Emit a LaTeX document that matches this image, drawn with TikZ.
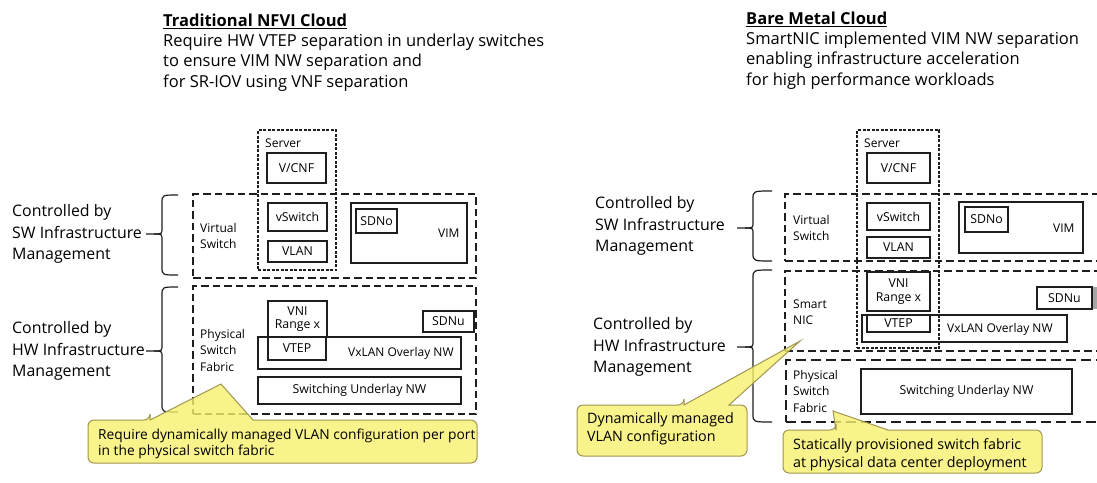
\documentclass[tikz,border=0pt]{standalone}
\usepackage{fontspec}
\setmainfont{Open Sans}
\definecolor{cfill}{RGB}{248,241,112}
\definecolor{cdraw}{RGB}{160,150,80}
\definecolor{ink}{RGB}{30,30,30}
\tikzset{
  solidbox/.style={draw=ink, line width=1.4pt, inner sep=0pt, align=center, font=\fontsize{12.3}{13.8}\selectfont},
  dashbox/.style={draw=ink, line width=1.2pt, dash pattern=on 7.5pt off 4pt, inner sep=0pt},
  dotbox/.style={draw=ink, line width=1.1pt, dash pattern=on 3pt off 1.5pt, inner sep=0pt},
  longdash/.style={draw=ink, line width=1.5pt, dash pattern=on 10pt off 5pt, inner sep=0pt},
  lbl/.style={anchor=west, inner sep=0pt, align=left, font=\fontsize{12}{16.5}\selectfont},
  big/.style={anchor=west, inner sep=0pt, align=left, font=\fontsize{15.9}{21.8}\selectfont},
  ttl/.style={anchor=west, inner sep=0pt, align=left, font=\fontsize{16.5}{20.4}\selectfont},
  callout/.style={fill=cfill, fill opacity=0.8, draw=cdraw, line width=1pt},
  ctext/.style={anchor=west, inner sep=0pt, align=left, font=\fontsize{13.8}{16.5}\selectfont},
  ctextb/.style={anchor=west, inner sep=0pt, align=left, font=\fontsize{14.3}{18.2}\selectfont},
  bracepath/.style={draw=ink, line width=1.2pt},
}
\newcommand\bx[7]{\node[#1, minimum width={(#5-#3)*1pt}, minimum height={(#6-#4)*1pt}] (#2) at ({(#3+#5)/2},{(#4+#6)/2}) {#7};}
\newcommand\curly[6]{%
  \draw[bracepath] (#1,#2) .. controls (#4,#2) .. (#4,#2+8) -- (#4,#6-6) .. controls (#4,#6) .. (#4-8,#6) -- (#5,#6);
  \draw[bracepath] (#4-8,#6) .. controls (#4,#6) .. (#4,#6+6) -- (#4,#3-8) .. controls (#4,#3) .. (#1,#3);}
\newcommand\callbox[8]{%
  \path[callout] (#5,#2) -- (#7,#8) -- (#6,#2) [rounded corners=6pt] -- (#3,#2) -- (#3,#4) -- (#1,#4) -- (#1,#2) -- (#5,#2) [sharp corners] -- cycle;}
\begin{document}
\begin{tikzpicture}[x=1pt, y=-1pt]
\useasboundingbox (0,0) rectangle (1097,482);
\fill[white] (0,0) rectangle (1097,482);

% ================= LEFT: Traditional NFVI Cloud =================
\node[ttl] (ltitle) at (163,52.5) {\textbf{\underline{Traditional NFVI Cloud}}\\Require HW VTEP separation in underlay switches\\to ensure VIM NW separation and\\for SR-IOV using VNF separation};

\bx{dashbox}{lvsw}{193}{194}{476}{278}{}
\bx{dashbox}{lpsf}{193}{286}{476}{414}{}
\bx{dotbox}{lserver}{258}{130}{336}{270}{}

\node[lbl] (lserverl) at (265,143) {Server};
\bx{solidbox}{lvcnf}{267}{153}{326}{183}{V/CNF}
\bx{solidbox}{lvswitch}{268}{203}{327}{231}{vSwitch}
\bx{solidbox}{lvlan}{268}{241}{327}{262}{VLAN}
\bx{solidbox}{lvim}{351}{203}{467}{263}{}
\node[lbl] (lvimt) at (438,233) {VIM};
\bx{solidbox}{lsdno}{356}{209}{397}{233}{SDNo}
\node[lbl] (lvswl) at (200,236) {Virtual\\Switch};

\node[lbl] (lpsfl) at (200,350) {Physical\\Switch\\Fabric};
\bx{solidbox}{lvxlan}{258}{337}{461}{369}{}
\node[lbl] (lvxlant) at (348,353) {VxLAN Overlay NW};
\bx{solidbox}{lvni}{268}{301}{327}{337}{VNI\\Range x}
\bx{solidbox}{lvtep}{268}{337}{326}{360}{VTEP}
\bx{solidbox}{lsdnu}{423}{311}{474}{332}{SDNu}
\bx{solidbox}{lunder}{258}{377}{461}{404}{Switching Underlay NW}

\node[big] (lsw) at (12,234) {Controlled by\\SW Infrastructure\\Management};
\node[big] (lhw) at (12,351) {Controlled by\\HW Infrastructure\\Management};
\curly{178}{195}{275}{162}{146}{234}
\curly{178}{287}{412}{162}{146}{351}

\callbox{88}{420}{477}{463}{150}{253}{221}{384}
\node[ctext] (lcallt) at (98,444) {Require dynamically managed VLAN configuration per port\\in the physical switch fabric};

% ================= RIGHT: Bare Metal Cloud =================
\node[ttl] (rtitle) at (746,50.5) {\textbf{\underline{Bare Metal Cloud}}\\SmartNIC implemented VIM NW separation\\enabling infrastructure acceleration\\for high performance workloads};

\bx{dashbox}{rvsw}{785}{194}{1110}{261}{}
\bx{dashbox}{rnic}{785}{271}{1110}{351}{}
\bx{longdash}{rpsf}{786}{360}{1110}{422}{}
\bx{dotbox}{rserver}{857}{130}{939}{348}{}

\node[lbl] (rserverl) at (864,143) {Server};
\bx{solidbox}{rvcnf}{867}{153}{930}{183}{V/CNF}
\bx{solidbox}{rvswitch}{867}{203}{930}{230}{vSwitch}
\bx{solidbox}{rvlan}{867}{237}{930}{258}{VLAN}
\bx{solidbox}{rvim}{959}{202}{1083}{253}{}
\node[lbl] (rvimt) at (1053,228) {VIM};
\bx{solidbox}{rsdno}{965}{207}{1008}{232}{SDNo}
\node[lbl] (rvswl) at (793,228) {Virtual\\Switch};

\node[lbl] (rnicl) at (793,312) {Smart\\NIC};
\bx{solidbox}{rvxlan}{862}{315}{1067}{342}{}
\node[lbl] (rvxlant) at (947,329) {VxLAN Overlay NW};
\bx{solidbox}{rvni}{867}{272}{930}{311}{VNI\\Range x}
\bx{solidbox}{rvtep}{867}{315}{930}{332}{VTEP}
\bx{solidbox}{rsdnu}{1037}{287}{1092}{309}{SDNu}
\fill[gray!70] (1093,287) rectangle (1097,309);

\node[lbl] (rpsfl) at (793,391) {Physical\\Switch\\Fabric};
\bx{solidbox}{runder}{861}{369}{1072}{414}{Switching Underlay NW}

\node[big] (rsw) at (595,226) {Controlled by\\SW Infrastructure\\Management};
\node[big] (rhw) at (593,347) {Controlled by\\HW Infrastructure\\Management};
\curly{772}{191}{261}{753}{737}{228}
\curly{772}{270}{422}{753}{737}{347}

\callbox{577}{405}{747}{456}{684}{729}{800}{341}
\node[ctextb] (rcall1) at (587,429) {Dynamically managed\\VLAN configuration};
\callbox{783}{430}{1042}{473}{836}{888}{833}{411}
\node[ctextb] (rcall2) at (793,455) {Statically provisioned switch fabric\\at physical data center deployment};
\end{tikzpicture}
\end{document}
